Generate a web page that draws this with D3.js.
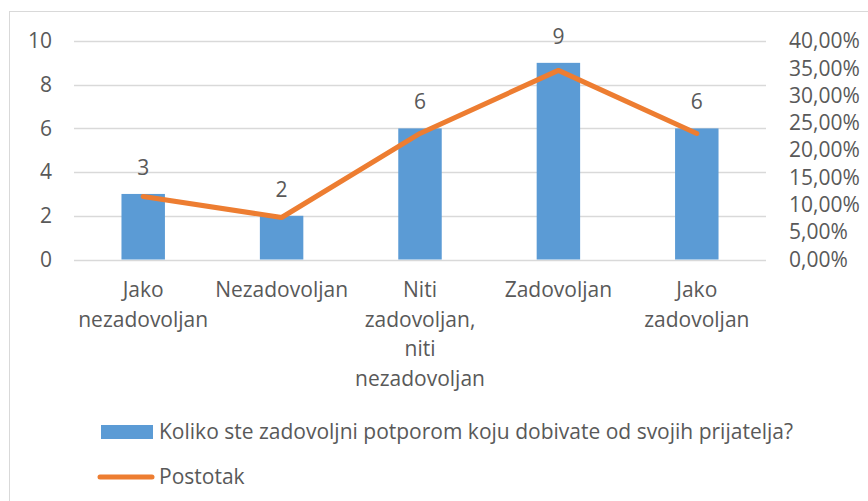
<!DOCTYPE html>
<html>
<head>
<meta charset="utf-8">
<script src="https://cdn.jsdelivr.net/npm/d3@7"></script>
<style>
  body { margin: 0; background: #fff; }
  text { font-family: "Open Sans", "Noto Sans", sans-serif; fill: #595959; }
</style>
</head>
<body>
<div id="chart"></div>
<script>
// data
var categories = ["Jako nezadovoljan", "Nezadovoljan", "Niti zadovoljan, niti nezadovoljan", "Zadovoljan", "Jako zadovoljan"]
var counts = [3, 2, 6, 9, 6]
var postotak = [0.1154, 0.0769, 0.2308, 0.3462, 0.2308]
var leftTicks = [0, 2, 4, 6, 8, 10]
var rightTicks = [0, 0.05, 0.10, 0.15, 0.20, 0.25, 0.30, 0.35, 0.40]
var barName = "Koliko ste zadovoljni potporom koju dobivate od svojih prijatelja?"
var lineName = "Postotak"

var width = 868, height = 501
var fs = 21

var svg = d3.select("#chart").append("svg")
    .attr("width", width)
    .attr("height", height)

// chart border (cut off at right and bottom)
svg.append("rect")
    .attr("x", 9.5).attr("y", 11.5)
    .attr("width", 1000).attr("height", 1000)
    .attr("fill", "none")
    .attr("stroke", "#d9d9d9")

var x = d3.scaleBand().domain(categories).range([74, 766]).padding(0)
var y = d3.scaleLinear().domain([0, 10]).range([259.5, 41])
var y2 = d3.scaleLinear().domain([0, 0.4]).range([259.5, 41])

// gridlines
svg.append("g").selectAll("line")
    .data(leftTicks)
    .enter().append("line")
    .attr("x1", 74).attr("x2", 766)
    .attr("y1", function(d) { return Math.round(y(d)) + 0.5 })
    .attr("y2", function(d) { return Math.round(y(d)) + 0.5 })
    .attr("stroke", "#d9d9d9")
    .attr("stroke-width", 1.3)

// left axis labels
var axL = svg.append("g")
    .attr("transform", "translate(52,0)")
    .call(d3.axisLeft(y).tickValues(leftTicks).tickSize(0).tickPadding(0))
axL.select(".domain").remove()
axL.selectAll("text").attr("font-size", fs).attr("font-family", null).attr("fill", "#595959")

// right axis labels
var fmt = function(d) { return d3.format(".2%")(d).replace(".", ",") }
var axR = svg.append("g")
    .attr("transform", "translate(789,0)")
    .call(d3.axisRight(y2).tickValues(rightTicks).tickFormat(fmt).tickSize(0).tickPadding(0))
axR.select(".domain").remove()
axR.selectAll("text").attr("font-size", fs).attr("font-family", null).attr("fill", "#595959")

// bars
var bw = x.bandwidth() * 0.314
svg.append("g").selectAll("rect")
    .data(counts)
    .enter().append("rect")
    .attr("x", function(d, i) { return x(categories[i]) + x.bandwidth() / 2 - bw / 2 })
    .attr("y", function(d) { return y(d) })
    .attr("width", bw)
    .attr("height", function(d) { return y(0) - y(d) })
    .attr("fill", "#5b9bd5")

// data labels
svg.append("g").selectAll("text")
    .data(counts)
    .enter().append("text")
    .attr("x", function(d, i) { return x(categories[i]) + x.bandwidth() / 2 })
    .attr("y", function(d) { return y(d) - 19 })
    .attr("text-anchor", "middle")
    .attr("font-size", fs)
    .text(function(d) { return d })

// line
var line = d3.line()
    .x(function(d, i) { return x(categories[i]) + x.bandwidth() / 2 })
    .y(function(d) { return y2(d) })
svg.append("path")
    .datum(postotak)
    .attr("d", line)
    .attr("fill", "none")
    .attr("stroke", "#ed7d31")
    .attr("stroke-width", 5)
    .attr("stroke-linecap", "round")
    .attr("stroke-linejoin", "round")

// category labels with word wrap
svg.append("g").selectAll("text")
    .data(categories)
    .enter().append("text")
    .attr("text-anchor", "middle")
    .attr("font-size", fs)
    .each(function(d) {
        var t = d3.select(this)
        var cx = x(d) + x.bandwidth() / 2
        var words = d.split(" ")
        var lines = []
        var cur = ""
        words.forEach(function(w) {
            var test = cur ? cur + " " + w : w
            t.text(test)
            if (cur && this.getComputedTextLength() > 136) {
                lines.push(cur)
                cur = w
            } else {
                cur = test
            }
        }, this)
        lines.push(cur)
        t.text(null)
        lines.forEach(function(l, i) {
            t.append("tspan").attr("x", cx).attr("y", 297 + i * 29.5).text(l)
        })
    })

// legend
svg.append("rect")
    .attr("x", 101).attr("y", 425)
    .attr("width", 52).attr("height", 14)
    .attr("fill", "#5b9bd5")
svg.append("text")
    .attr("x", 159).attr("y", 439)
    .attr("font-size", fs)
    .text(barName)
svg.append("line")
    .attr("x1", 100).attr("x2", 152)
    .attr("y1", 477).attr("y2", 477)
    .attr("stroke", "#ed7d31")
    .attr("stroke-width", 5)
    .attr("stroke-linecap", "round")
svg.append("text")
    .attr("x", 159).attr("y", 484)
    .attr("font-size", fs)
    .text(lineName)
</script>
</body>
</html>
